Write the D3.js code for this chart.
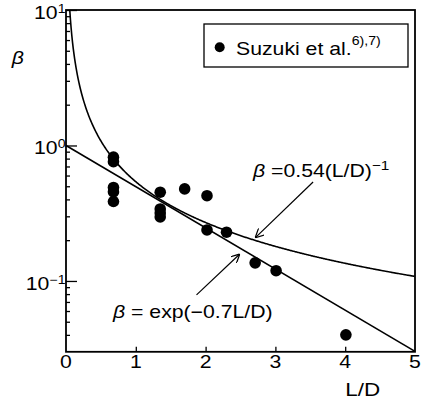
<!DOCTYPE html>
<html lang="en">
<head>
<meta charset="UTF-8">
<script src="https://d3js.org/d3.v7.min.js"></script>
<title>beta vs L/D</title>
<style>
    body { margin: 0; background: white; }
    svg { display: block; }
    text { font-family: "Liberation Sans", Arial, Helvetica, sans-serif; fill: black; }
</style>
</head>
<body>
<script>

    // Suzuki et al. measurements
    var ldValues   = [0.68, 0.68, 0.68, 0.68, 0.68, 1.35, 1.35, 1.35, 1.35, 1.70, 2.02, 2.02, 2.30, 2.71, 3.01, 4.01];
    var betaValues = [0.82, 0.76, 0.49, 0.454, 0.386, 0.452, 0.34, 0.318, 0.297, 0.478, 0.426, 0.238, 0.229, 0.136, 0.119, 0.040];

    var xTicks = [0, 1, 2, 3, 4, 5];
    var yMajor = [0.1, 1, 10];
    var yMajorExp = ["\u22121", "0", "1"];
    var yMinor = [0.04, 0.05, 0.06, 0.07, 0.08, 0.09, 0.2, 0.3, 0.4, 0.5, 0.6, 0.7, 0.8, 0.9, 2, 3, 4, 5, 6, 7, 8, 9];

    // fitted curves: beta = 0.54 (L/D)^-1 and beta = exp(-0.7 L/D)
    var powerCoef = 0.54;
    var expCoef = -0.7;

    var margin = {top: 10, right: 11, bottom: 50, left: 66};
    var W = 426, H = 402;
    var width = W - margin.left - margin.right;
    var height = 341.8;
    var sx = 1.18; // the scanned figure's lettering is a bit wide

    var svg = d3.select("body").append("svg")
        .attr("width", W)
        .attr("height", H);

    var g = svg.append("g").attr("transform", "translate(" + margin.left + "," + margin.top + ")");

    var x = d3.scaleLinear().domain([0, 5]).range([0, width]);
    var y = d3.scaleLog().domain([0.03, 10]).range([height, 0]);

    function wideText(parent, tx, ty, size, anchor) {
        return parent.append("text")
            .attr("transform", "translate(" + tx + "," + ty + ") scale(" + sx + ",1)")
            .attr("text-anchor", anchor || "start")
            .style("font-size", size + "px");
    }

    // frame
    g.append("rect")
        .attr("width", width).attr("height", height)
        .attr("fill", "none").attr("stroke", "black").attr("stroke-width", 1.8);

    // x axis, ticks pointing inward
    var xAxis = g.append("g")
        .attr("transform", "translate(0," + height + ")")
        .call(d3.axisBottom(x).tickValues(xTicks).tickSizeInner(-5).tickSizeOuter(0).tickFormat(""));
    xAxis.select(".domain").remove();
    xAxis.selectAll(".tick line").attr("stroke-width", 1.3)
        .filter(function(d) { return d == 0 || d == 5; }).remove();

    xTicks.forEach(function(d) {
        wideText(g, x(d), height + 16.5, 18, "middle").text(d);
    });

    // y axis (log), major and minor ticks inward
    var yAxis = g.append("g")
        .call(d3.axisLeft(y).tickValues(yMajor.concat(yMinor)).tickSizeOuter(0).tickFormat(""));
    yAxis.select(".domain").remove();
    yAxis.selectAll(".tick line")
        .attr("x2", function(d) { return yMajor.indexOf(d) >= 0 ? 11 : 4; })
        .attr("stroke-width", 1.3);

    yMajor.forEach(function(d, i) {
        var t = wideText(g, -0.5, y(d) + 9, 18, "end");
        t.append("tspan").text("10");
        t.append("tspan").attr("dy", -6).style("font-size", "12px").text(yMajorExp[i]);
    });

    // axis titles
    wideText(g, 11.7 - margin.left, 64 - margin.top, 18, "start")
        .style("font-style", "italic")
        .text("\u03b2");
    wideText(g, x(4.25), 396 - margin.top, 19, "middle").text("L/D");

    // curves
    var powerData = d3.range(0.054, 5.0001, 0.01).map(function(v) { return [v, powerCoef / v]; });
    var expData = [0, 5].map(function(v) { return [v, Math.exp(expCoef * v)]; });
    var line = d3.line()
        .x(function(d) { return x(d[0]); })
        .y(function(d) { return y(d[1]); });

    g.append("path").datum(powerData)
        .attr("d", line).attr("fill", "none").attr("stroke", "black").attr("stroke-width", 1.6);
    g.append("path").datum(expData)
        .attr("d", line).attr("fill", "none").attr("stroke", "black").attr("stroke-width", 1.6);

    // data points
    g.selectAll("circle.pt")
        .data(ldValues)
        .enter().append("circle")
        .attr("class", "pt")
        .attr("cx", function(d) { return x(d); })
        .attr("cy", function(d, i) { return y(betaValues[i]); })
        .attr("r", 5.8)
        .attr("fill", "black");

    // legend
    var leg = g.append("g");
    leg.append("rect")
        .attr("x", 138).attr("y", 14).attr("width", 204).attr("height", 43)
        .attr("fill", "white").attr("stroke", "black").attr("stroke-width", 1.3);
    leg.append("circle").attr("cx", 153.7).attr("cy", 37.3).attr("r", 5).attr("fill", "black");
    var legText = wideText(leg, 170, 44.5, 18, "start");
    legText.append("tspan").text("Suzuki et al.");
    legText.append("tspan").attr("dy", -9.5).style("font-size", "12px").text("6),7)");

    // annotations with arrows
    var defs = svg.append("defs");
    defs.append("marker")
        .attr("id", "arr")
        .attr("viewBox", "0 0 10 10")
        .attr("refX", 10).attr("refY", 5)
        .attr("markerWidth", 9).attr("markerHeight", 9)
        .attr("markerUnits", "userSpaceOnUse")
        .attr("orient", "auto")
        .append("path")
        .attr("d", "M0,0 L10,5 L0,10")
        .attr("fill", "none").attr("stroke", "black").attr("stroke-width", 1.4);

    var arrows = [
        {from: [3.54, 0.538], to: [2.71, 0.208]},
        {from: [1.87, 0.0789], to: [2.49, 0.158]}
    ];
    g.selectAll("line.arrow")
        .data(arrows)
        .enter().append("line")
        .attr("class", "arrow")
        .attr("x1", function(d) { return x(d.from[0]); })
        .attr("y1", function(d) { return y(d.from[1]); })
        .attr("x2", function(d) { return x(d.to[0]); })
        .attr("y2", function(d) { return y(d.to[1]); })
        .attr("stroke", "black").attr("stroke-width", 1.2)
        .attr("marker-end", "url(#arr)");

    var t1 = wideText(g, 253 - margin.left, 176.7 - margin.top, 18, "start");
    t1.append("tspan").style("font-style", "italic").text("\u03b2");
    t1.append("tspan").text(" =0.54(L/D)");
    t1.append("tspan").attr("dy", -7).style("font-size", "13px").text("\u22121");

    var t2 = wideText(g, 113 - margin.left, 318 - margin.top, 18, "start");
    t2.append("tspan").style("font-style", "italic").text("\u03b2");
    t2.append("tspan").text(" = exp(\u22120.7L/D)");

</script>
</body>
</html>
